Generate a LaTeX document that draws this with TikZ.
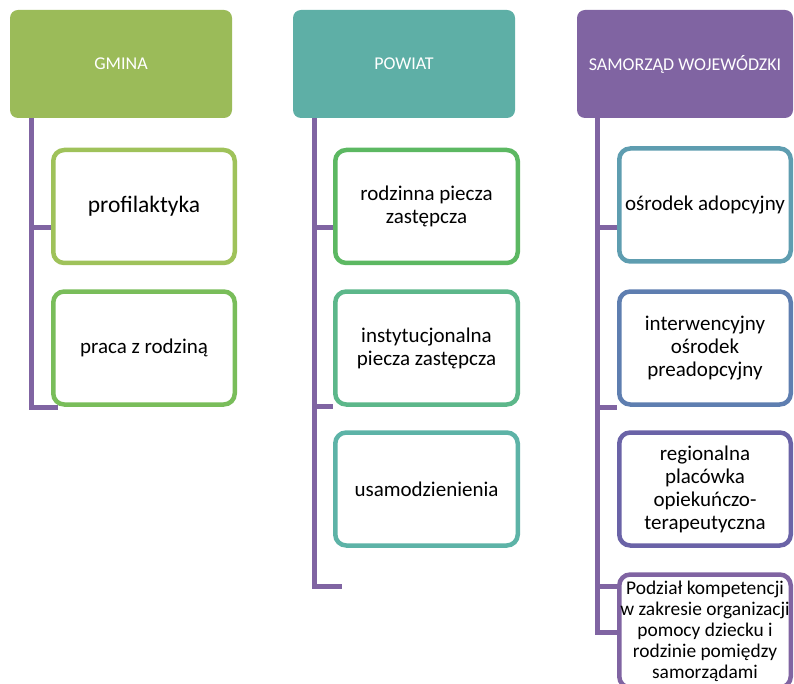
\documentclass[tikz,border=0pt]{standalone}
\usepackage{fontspec}
\setmainfont{Carlito}
\definecolor{cGmina}{HTML}{9BBB59}
\definecolor{cPowiat}{HTML}{5EAFA6}
\definecolor{cWoj}{HTML}{8064A2}
\definecolor{cLine}{HTML}{8064A2}
\definecolor{bA}{HTML}{9FC25A}
\definecolor{bB}{HTML}{79BD5A}
\definecolor{bC}{HTML}{5CB862}
\definecolor{bD}{HTML}{5CB78A}
\definecolor{bE}{HTML}{5DB3A7}
\definecolor{bF}{HTML}{5E9DB0}
\definecolor{bG}{HTML}{5E7EB0}
\definecolor{bH}{HTML}{6A63A7}
\definecolor{bI}{HTML}{8064A2}
\begin{document}
\begin{tikzpicture}[x=1pt,y=-1pt,
  hdr/.style={fill=#1, rounded corners=8pt, minimum height=108pt, inner sep=0pt,
    text=white, font=\fontsize{18}{21}\selectfont},
  ibox/.style={draw=#1, fill=white, line width=4.5pt, rounded corners=11pt,
    minimum height=113pt, inner sep=1pt, align=center, text=black,
    font=\fontsize{21}{23}\selectfont},
  conn/.style={draw=cLine, line width=5pt}]
\useasboundingbox (0,0) rectangle (794,684);
\clip (0,0) rectangle (794,684);

% headers
\node[hdr=cGmina, minimum width=222pt] (gmina) at (121,64) {GMINA};
\node[hdr=cPowiat, minimum width=222pt] (powiat) at (404,64) {POWIAT};
\node[hdr=cWoj, minimum width=216pt] (woj) at (685,64) {SAMORZĄD WOJEWÓDZKI};

% connector coordinates
\coordinate (a1) at (31,228);
\coordinate (a2) at (31,407);
\coordinate (a2e) at (58,407);
\coordinate (b1) at (314,228);
\coordinate (b2) at (314,406);
\coordinate (b3) at (314,586);
\coordinate (b3e) at (342,586);
\coordinate (c1) at (597,228);
\coordinate (c2) at (597,407);
\coordinate (c3) at (597,586);
\coordinate (c4) at (597,632);
\coordinate (c4e) at (618,632);

% vertical connectors
\draw[conn] (gmina.south -| a2) -- (a2) -- (a2e);
\draw[conn] (powiat.south -| b3) -- (b3) -- (b3e);
\draw[conn] (woj.south -| c4) -- (c4) -- (c4e);

% boxes
\node[ibox=bA, minimum width=181.5pt, font=\fontsize{23.5}{26}\selectfont] (prof) at (144,206.5) {profilaktyka};
\node[ibox=bB, minimum width=181.5pt] (praca) at (144,348) {praca z rodziną};

\node[ibox=bC, minimum width=182.5pt] (rodz) at (426.5,206.5) {rodzinna piecza\\zastępcza};
\node[ibox=bD, minimum width=182.5pt] (inst) at (426.5,348) {instytucjonalna\\piecza zastępcza};
\node[ibox=bE, minimum width=182.5pt] (usam) at (426.5,489) {usamodzienienia};

\node[ibox=bF, minimum width=171.5pt] (adop) at (705,205) {ośrodek adopcyjny};
\node[ibox=bG, minimum width=171.5pt] (inter) at (705,348) {interwencyjny\\ośrodek\\preadopcyjny};
\node[ibox=bH, minimum width=171.5pt] (reg) at (705,489) {regionalna\\placówka\\opiekuńczo-\\terapeutyczna};
\node[ibox=bI, minimum width=171.5pt, font=\fontsize{19.4}{21}\selectfont] (podz) at (705,631) {Podział kompetencji\\w zakresie organizacji\\pomocy dziecku i\\rodzinie pomiędzy\\samorządami};

% stubs
\draw[conn] (a1) -- (prof.west |- a1);
\draw[conn] (b1) -- (rodz.west |- b1);
\draw[conn] (b2) -- (inst.west |- b2);
\draw[conn] (c1) -- (adop.west |- c1);
\draw[conn] (c2) -- (inter.west |- c2);
\draw[conn] (c3) -- (podz.west |- c3);
\end{tikzpicture}
\end{document}
